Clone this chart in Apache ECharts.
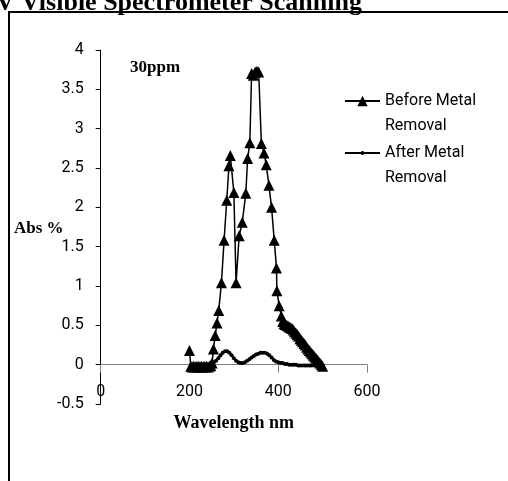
<!DOCTYPE html>
<html><head><meta charset="utf-8">
<script src="https://cdn.jsdelivr.net/npm/echarts@6/dist/echarts.min.js"></script>
<style>html,body{margin:0;padding:0;background:#fff}#c{width:508px;height:481px}</style>
</head><body><div id="c"></div>
<script>
const titleText = 'UV Visible Spectrometer Scanning';
const xTicks = [0, 200, 400, 600];
const yTicks = [-0.5, 0, 0.5, 1, 1.5, 2, 2.5, 3, 3.5, 4];
const seriesNames = ['Before Metal Removal', 'After Metal Removal'];

const beforeX = [200,203,206,209,212,215,218,221,224,227,230,233,236,239,242,245,248,251,254,258,262,266,272,278,284,289,292,300,305,312,319,327,331,336,340,344,348,352,356,362,368,373,379,385,391,396,397,402,407,410,413,416,419,422,425,428,431,434,437,440,443,446,449,452,455,458,461,464,467,470,473,476,479,482,485,488,491,494,497,500];
const beforeY = [0.18,-0.02,-0.03,-0.02,-0.03,-0.02,-0.03,-0.02,-0.03,-0.02,-0.03,-0.02,-0.03,-0.02,-0.03,-0.02,-0.01,0.02,0.2,0.37,0.53,0.69,1.04,1.58,2.09,2.53,2.66,2.19,1.04,1.64,1.81,2.18,2.62,2.82,3.70,3.68,3.72,3.73,3.72,2.81,2.69,2.54,2.28,2.0,1.58,1.23,0.94,0.75,0.62,0.55,0.52,0.51,0.5,0.49,0.48,0.47,0.46,0.44,0.42,0.4,0.38,0.36,0.33,0.31,0.29,0.27,0.25,0.22,0.2,0.18,0.16,0.14,0.12,0.1,0.08,0.06,0.04,0.02,0.0,-0.02];

const afterX = [250,255,260,265,270,275,280,285,290,295,300,305,310,315,320,325,330,335,340,345,350,355,360,365,370,375,380,385,390,395,400,405,410,415,420,425,430,435,440,445,450,455,460,465,470,475,480,485,490,495,500];
const afterY = [0.02,0.03,0.05,0.08,0.12,0.15,0.17,0.17,0.15,0.12,0.08,0.05,0.03,0.02,0.02,0.03,0.05,0.07,0.09,0.11,0.13,0.14,0.15,0.15,0.15,0.14,0.12,0.09,0.06,0.04,0.03,0.02,0.02,0.01,0.01,0.0,0.0,0.0,0.0,-0.01,-0.01,-0.01,-0.01,-0.01,-0.01,-0.01,-0.01,-0.01,-0.01,-0.01,-0.01];

const zip = (xs, ys) => xs.map((x, i) => [x, ys[i]]);
const sans = 'Roboto';
const serif = 'Liberation Serif';

const chart = echarts.init(document.getElementById('c'), null, {renderer: 'canvas'});
chart.setOption({
  animation: false,
  backgroundColor: '#fff',
  title: {
    text: titleText, left: -28, top: -15,
    textStyle: {fontFamily: serif, fontWeight: 'bold', fontSize: 26, color: '#000'}
  },
  grid: {left: 100.7, top: 50, width: 266.3, height: 354, containLabel: false},
  xAxis: {
    type: 'value', min: xTicks[0], max: xTicks[xTicks.length - 1], interval: 200,
    name: 'Wavelength nm', nameLocation: 'middle', nameGap: 10,
    nameTextStyle: {fontFamily: serif, fontWeight: 'bold', fontSize: 18, color: '#000'},
    axisLine: {onZero: true, lineStyle: {color: '#808080', width: 1}},
    axisTick: {show: true, inside: false, length: 8, lineStyle: {color: '#808080'}},
    axisLabel: {margin: -20, fontFamily: sans, fontSize: 16, color: '#000'},
    splitLine: {show: false}
  },
  yAxis: {
    type: 'value', min: yTicks[0], max: yTicks[yTicks.length - 1], interval: 0.5,
    axisLine: {show: true, onZero: false, lineStyle: {color: '#000', width: 1}},
    axisTick: {show: true, length: 5, lineStyle: {color: '#000'}},
    axisLabel: {margin: 17, fontFamily: sans, fontSize: 16, color: '#000'},
    splitLine: {show: false}
  },
  legend: [{
    data: [seriesNames[0]], left: 339, top: 58.5, itemWidth: 35, itemHeight: 13,
    formatter: () => '\nBefore Metal\nRemoval',
    textStyle: {fontFamily: sans, fontSize: 16, color: '#000', lineHeight: 25},
    itemGap: 0
  }, {
    data: [seriesNames[1]], left: 339, top: 110.5, itemWidth: 35, itemHeight: 5,
    formatter: () => '\nAfter Metal\nRemoval',
    textStyle: {fontFamily: sans, fontSize: 16, color: '#000', lineHeight: 25},
    itemGap: 0
  }],
  graphic: [
    {type: 'rect', shape: {x: 9, y: 12, width: 560, height: 520}, style: {fill: 'none', stroke: '#000', lineWidth: 2}, silent: true},
    {type: 'text', left: 130, top: 59, style: {text: '30ppm', font: 'bold 17px "Liberation Serif"', fill: '#000'}},
    {type: 'text', left: 14, top: 220, style: {text: 'Abs %', font: 'bold 17px "Liberation Serif"', fill: '#000'}}
  ],
  series: [{
    name: seriesNames[0], type: 'line', data: zip(beforeX, beforeY),
    symbol: 'triangle', symbolSize: [11, 11], showAllSymbol: true,
    lineStyle: {color: '#000', width: 1.5}, itemStyle: {color: '#000'}
  }, {
    name: seriesNames[1], type: 'line', data: zip(afterX, afterY),
    symbol: 'circle', symbolSize: 4, showAllSymbol: true,
    lineStyle: {color: '#000', width: 2}, itemStyle: {color: '#000'}
  }]
});
</script></body></html>
